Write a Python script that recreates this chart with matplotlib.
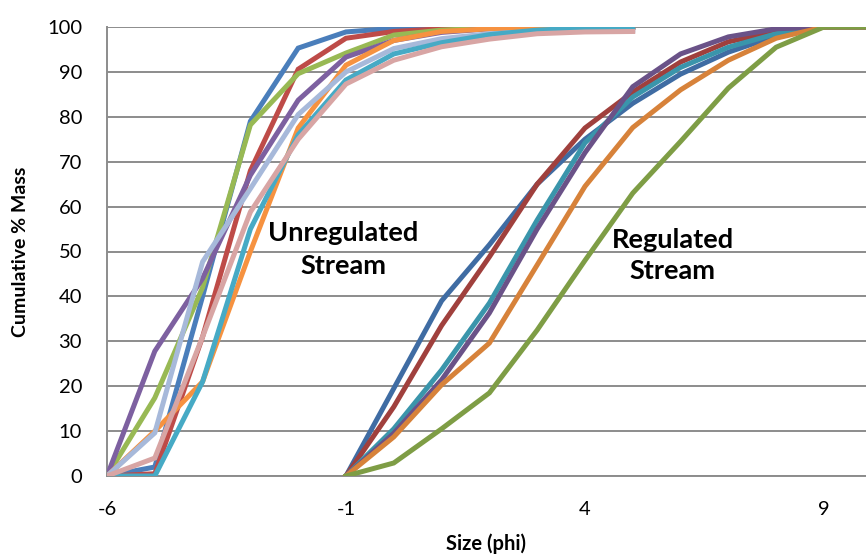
import matplotlib
matplotlib.use("Agg")
import matplotlib.pyplot as plt

plt.rcParams['font.family'] = ['Lato', 'DejaVu Sans']
plt.rcParams['axes.unicode_minus'] = False

# Grain-size classes (phi)
phi_unreg = [-6, -5, -4, -3, -2, -1, 0, 1, 2, 3, 4, 5]
phi_reg = [-1, 0, 1, 2, 3, 4, 5, 6, 7, 8, 9, 10]

# Cumulative % mass, unregulated stream samples
unreg_blue = [0, 2, 40, 79, 95.3, 98.9, 99.7, 100, 100, 100, 100, 100]
unreg_red = [0, 0.5, 31, 68, 90.6, 97.5, 99, 99.6, 100, 100, 100, 100]
unreg_green = [0, 17.4, 42, 78.2, 89.6, 94.2, 98.2, 99.3, 99.8, 100, 100, 100]
unreg_purple = [0, 27.8, 44, 67, 83.7, 93.3, 97, 98.8, 99.6, 100, 100, 100]
unreg_cyan = [0, 0, 21, 55, 76, 88.2, 94, 96.5, 98.3, 99.3, 99.8, 100]
unreg_orange = [0, 10, 21, 50, 77.5, 91.5, 97, 99, 99.6, 100, 100, 100]
unreg_lightblue = [0, 9.6, 47.7, 64, 80.5, 90, 95.2, 97.4, 98.5, 99, 99.2, 99.3]
unreg_pink = [0, 4, 31, 58.8, 75, 87.3, 92.6, 95.6, 97.3, 98.5, 98.9, 99]

# Cumulative % mass, regulated stream samples
reg_blue = [0, 19.5, 39, 51.5, 65, 75, 83, 89.5, 94.4, 98, 100, 100]
reg_red = [0, 15.4, 33.5, 48.8, 65, 77.5, 85.5, 92.2, 96.7, 99, 100, 100]
reg_teal = [0, 10.5, 23.6, 38.5, 57, 74.2, 84.4, 91, 95.5, 98.5, 100, 100]
reg_purple = [0, 9.5, 21.4, 36.3, 55, 72, 86.7, 94, 97.8, 99.6, 100, 100]
reg_orange = [0, 8.7, 20.3, 29.6, 47, 64.5, 77.6, 86, 92.6, 97.5, 100, 100]
reg_green = [0, 2.9, 10.5, 18.5, 32.5, 48, 63, 74.5, 86.4, 95.5, 100, 100]

unreg_series = [
    (unreg_blue, '#4A7EBB'),
    (unreg_red, '#BE4B48'),
    (unreg_green, '#98B954'),
    (unreg_purple, '#7D60A0'),
    (unreg_orange, '#F69240'),
    (unreg_lightblue, '#A7B9DA'),
    (unreg_cyan, '#46AAC5'),
    (unreg_pink, '#D8A5A4'),
]
reg_series = [
    (reg_blue, '#3F6CA3'),
    (reg_red, '#A0403D'),
    (reg_teal, '#3A95AB'),
    (reg_purple, '#6A5288'),
    (reg_orange, '#D7823A'),
    (reg_green, '#7E9D45'),
]

fig = plt.figure(figsize=(8.66, 5.57), dpi=100)
ax = fig.add_axes([107 / 866, 81 / 557, 1 - 107 / 866, 449 / 557])

for vals, col in unreg_series:
    ax.plot(phi_unreg, vals, color=col, lw=3.6, solid_joinstyle='miter', zorder=3)
for vals, col in reg_series:
    ax.plot(phi_reg, vals, color=col, lw=3.6, solid_joinstyle='miter', zorder=3)

ax.set_xlim(-6, 9.88)
ax.set_ylim(0, 100)
ax.set_xticks([-6, -1, 4, 9])
ax.set_yticks(range(0, 101, 10))
ax.yaxis.grid(True, color='#8C8C8C', lw=1.4, zorder=1)
ax.set_axisbelow(True)
ax.tick_params(axis='both', length=0, labelsize=14.5, colors='black')
ax.tick_params(axis='y', pad=18)
ax.tick_params(axis='x', pad=18)

for s in ['top', 'right']:
    ax.spines[s].set_visible(False)
for s in ['left', 'bottom']:
    ax.spines[s].set_color('#8C8C8C')
    ax.spines[s].set_linewidth(1.4)

ax.set_xlabel('Size (phi)', fontsize=14.5, fontweight='bold', labelpad=11)
ax.set_ylabel('Cumulative % Mass', fontsize=14, fontweight='bold', labelpad=13)

ax.text(-1.06, 50.5, 'Unregulated\nStream', ha='center', va='center',
        fontsize=19.5, fontweight='bold', linespacing=1.45)
ax.text(5.84, 49, 'Regulated\nStream', ha='center', va='center',
        fontsize=19.5, fontweight='bold', linespacing=1.35)

fig.savefig('out.png', dpi=100)
